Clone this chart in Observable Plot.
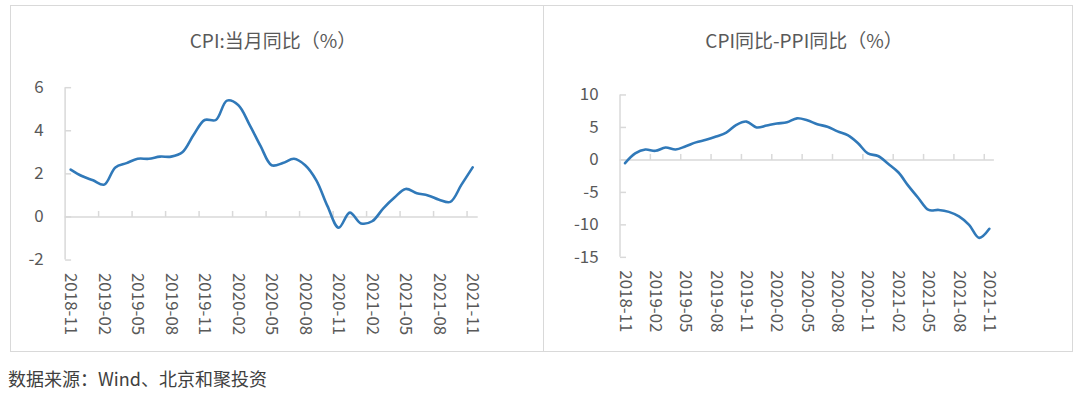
<!DOCTYPE html>
<html>
<head>
<meta charset="utf-8">
<script src="https://cdn.jsdelivr.net/npm/d3@7"></script>
<script src="https://cdn.jsdelivr.net/npm/@observablehq/plot@0.6"></script>
<style>
  html, body { margin: 0; padding: 0; background: #fff; }
  body { width: 1080px; height: 393px; position: relative; overflow: hidden;
         font-family: "Noto Sans CJK SC", "Noto Sans", sans-serif; }
  .panel { position: absolute; top: 5px; height: 347px; box-sizing: border-box;
           border: 1.5px solid #d9d9d9; background: #fff; }
  .panel svg { position: absolute; left: -1.5px; top: -1.5px; }
  .title { position: absolute; top: 22px; transform: translateX(-50%); white-space: nowrap;
           font-size: 19px; color: #595959; line-height: 24px; }
  .caption { position: absolute; left: 8px; top: 366px; font-size: 18px; color: #404040; line-height: 24px; }
</style>
</head>
<body>
<div class="panel" id="p1" style="left:10px;width:534px;"><div class="title" style="left:262px;">CPI:当月同比（%）</div></div>
<div class="panel" id="p2" style="left:543px;width:530px;"><div class="title" style="left:260px;">CPI同比-PPI同比（%）</div></div>
<div class="caption">数据来源：Wind、北京和聚投资</div>
<script>
// ---- data ----
const months = ["2018-11","2018-12","2019-01","2019-02","2019-03","2019-04","2019-05","2019-06","2019-07","2019-08","2019-09","2019-10","2019-11","2019-12","2020-01","2020-02","2020-03","2020-04","2020-05","2020-06","2020-07","2020-08","2020-09","2020-10","2020-11","2020-12","2021-01","2021-02","2021-03","2021-04","2021-05","2021-06","2021-07","2021-08","2021-09","2021-10","2021-11"];
const cpiYoY = [2.2,1.9,1.7,1.5,2.3,2.5,2.7,2.7,2.8,2.8,3.0,3.8,4.5,4.5,5.4,5.2,4.3,3.3,2.4,2.5,2.7,2.4,1.7,0.5,-0.5,0.2,-0.3,-0.2,0.4,0.9,1.3,1.1,1.0,0.8,0.7,1.5,2.3];
const cpiPpiGap = [-0.5,1.0,1.6,1.4,1.9,1.6,2.1,2.7,3.1,3.6,4.2,5.4,5.9,5.0,5.3,5.6,5.8,6.4,6.1,5.5,5.1,4.4,3.8,2.6,1.0,0.6,-0.6,-1.9,-4.0,-5.9,-7.7,-7.7,-8.0,-8.7,-10.0,-12.0,-10.6];
const cpiTicks = [-2,0,2,4,6];
const gapTicks = [-15,-10,-5,0,5,10];
const labelEvery = 3;

// ---- helpers ----
const axisGray = "#d9d9d9";
const textGray = "#595959";
const lineBlue = "#3079b9";
const tickUp = {draw(ctx) { ctx.moveTo(0, 0); ctx.lineTo(0, -6); }};
const tickRight = {draw(ctx) { ctx.moveTo(0, 0); ctx.lineTo(6, 0); }};
const idx = months.map((m, i) => i);
const labelIdx = idx.filter(i => i % labelEvery === 0);
const boundaryIdx = labelIdx.slice(0, -1).map(i => i + labelEvery - 0.5);
const xDomain = [-0.5, months.length - 0.5];

function chart(values, yTicks, opts) {
  return Plot.plot({
    width: opts.width, height: opts.height,
    marginLeft: opts.ml, marginRight: opts.mr, marginTop: opts.mt, marginBottom: opts.mb,
    style: {fontFamily: '"Noto Sans CJK SC", "Noto Sans", sans-serif', fontSize: "17px", color: textGray, background: "transparent"},
    x: {domain: xDomain},
    y: {domain: [yTicks[0], yTicks[yTicks.length - 1]]},
    marks: [
      Plot.ruleX([xDomain[0]], {stroke: axisGray, strokeWidth: 1.5}),
      Plot.ruleY([0], {stroke: axisGray, strokeWidth: 1.5}),
      Plot.dot(boundaryIdx, {x: d => d, y: () => 0, symbol: tickUp, stroke: axisGray, fill: "none", strokeWidth: 1.5}),
      Plot.dot(yTicks, {x: () => xDomain[0], y: d => d, symbol: tickRight, stroke: axisGray, fill: "none", strokeWidth: 1.5}),
      Plot.axisY({ticks: yTicks, tickSize: 0, tickPadding: 21.5, tickFormat: d => String(d), fill: textGray}),
      Plot.axisX({ticks: labelIdx, tickSize: 0, tickPadding: 13, tickRotate: 90, tickFormat: i => months[i], fill: textGray, anchor: "bottom", letterSpacing: "0.4px"}),
      Plot.line(values, {x: (d, i) => i, y: d => d, curve: "catmull-rom", stroke: lineBlue, strokeWidth: 2.6})
    ]
  });
}

const c1 = chart(cpiYoY, cpiTicks, {width: 534, height: 347, ml: 54.8, mr: 64.5, mt: 82.5, mb: 91.5});
document.getElementById("p1").appendChild(c1);
const c2 = chart(cpiPpiGap, gapTicks, {width: 530, height: 347, ml: 76.8, mr: 77.4, mt: 89.8, mb: 94.2});
document.getElementById("p2").appendChild(c2);
</script>
</body>
</html>
